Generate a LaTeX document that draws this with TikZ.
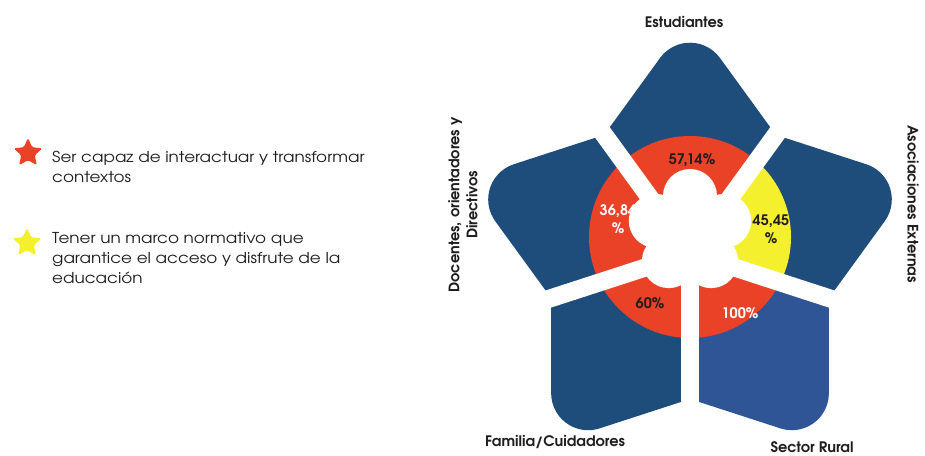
\documentclass[tikz,border=0pt]{standalone}
\usepackage{fontspec}
\setmainfont{TeX Gyre Adventor}
\newfontfamily\legfont[FakeStretch=1.12]{TeX Gyre Adventor}
\usetikzlibrary{calc,shapes.geometric}
\definecolor{petal}{RGB}{31,77,123}
\definecolor{petalB}{RGB}{47,85,151}
\definecolor{ringred}{RGB}{234,66,38}
\definecolor{ringyel}{RGB}{245,240,45}
\definecolor{txt}{RGB}{30,30,30}
\begin{document}
\begin{tikzpicture}[x=1pt,y=1pt,
  lbl/.style={font=\bfseries\fontsize{14.5}{18}\selectfont, text=txt, inner sep=0},
  pct/.style={font=\bfseries\fontsize{14.5}{18}\selectfont, inner sep=0, align=center},
  legend/.style={font=\legfont\fontsize{15}{19.8}\selectfont, text=txt, align=left, anchor=west, inner sep=0},
  legstar/.style={star, star points=5, star point ratio=2.1, minimum size=30pt, inner sep=0, rounded corners=1.5pt},
]
\useasboundingbox (0,0) rectangle (925,-455);
\coordinate (C) at (690,-253);
\coordinate (R) at (690,-237);
\coordinate (F) at (690,-232);
% petals with inner ring
\foreach \a/\col/\rc in {90/petal/ringred, 162/petal/ringred, 18/petal/ringyel, 234/petal/ringred, 306/petalB/ringred}{
  \fill[\col] (C) -- ($(C)+(\a-36:146)$) -- ($(C)+(\a:173.3)+(\a-54:37)$)
     arc[start angle=\a-54, end angle=\a+54, radius=37] -- ($(C)+(\a+36:146)$) -- cycle;
  \begin{scope}
    \clip (C) -- ($(C)+(\a-36:146)$) -- ($(C)+(\a:173.3)+(\a-54:37)$)
     arc[start angle=\a-54, end angle=\a+54, radius=37] -- ($(C)+(\a+36:146)$) -- cycle;
    \fill[\rc] (R) circle[radius=101];
  \end{scope}
}
% gaps between petals
\foreach \a in {54,126,198,270,342}{
  \draw[white, line width=18pt] (C) -- ++(\a:165);
}
% percentages
\node[pct, text=txt] (p1) at (692,-160) {57,14\%};
\node[pct, text=white] (p2) at (618,-219) {36,84\\\%};
\node[pct, text=txt] (p3) at (771,-229) {45,45\\\%};
\node[pct, text=txt] (p4) at (650,-303) {60\%};
\node[pct, text=white] (p5) at (740,-313) {100\%};
% white centre flower
\fill[white] (F) circle[radius=40];
\foreach \a in {90,162,18,234,306}{
  \fill[white] ($(F)+(\a:36)$) circle[radius=27];
}
% petal labels
\node[lbl] (est) at (684,-22) {Estudiantes};
\node[lbl] (fam) at (555,-442) {Familia/Cuidadores};
\node[lbl] (sec) at (812,-447) {Sector Rural};
\node[lbl, rotate=90, align=center] (doc) at (463,-205) {Docentes, orientadores y\\Directivos};
\node[lbl, rotate=-90] (aso) at (913,-204) {Asociaciones Externas};
% legend
\node[legstar, fill=ringred] (s1) at (28,-153) {};
\node[legend] (l1) at (52,-167) {Ser capaz de interactuar y transformar\\contextos};
\node[legstar, fill=ringyel] (s2) at (27,-243) {};
\node[legend] (l2) at (52,-258) {Tener un marco normativo que\\garantice el acceso y disfrute de la\\educación};
\end{tikzpicture}
\end{document}
